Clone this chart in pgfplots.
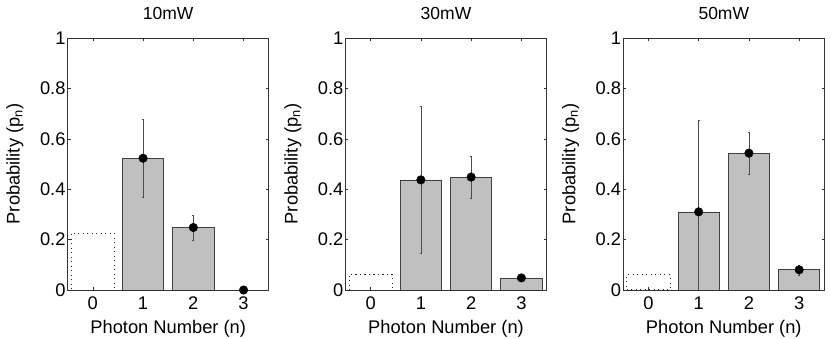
\documentclass[border=0pt]{standalone}
\usepackage{pgfplots}
\pgfplotsset{compat=1.18}
\usepackage{pgfplotstable}
\usepackage{fontspec}
\setmainfont{Liberation Sans}

\definecolor{barfill}{RGB}{192,192,192}

% photon number distributions: n, probability, error
\pgfplotstableread{
n p e
1 0.523 0.156
2 0.248 0.050
3 0.000 0.000
}\tenmw
\pgfplotstableread{
n p e
1 0.437 0.290
2 0.448 0.084
3 0.048 0.005
}\thirtymw
\pgfplotstableread{
n p e
1 0.310 0.365
2 0.543 0.083
3 0.080 0.020
}\fiftymw

\newcommand{\bigfont}{\fontsize{18.3bp}{20bp}\selectfont}
\newcommand{\titlefont}{\fontsize{17.5bp}{19bp}\selectfont}

\pgfplotsset{
  panel/.style={
    anchor=south west,
    width=201bp, height=252bp, scale only axis,
    xmin=-0.5, xmax=3.5, ymin=0, ymax=1,
    xtick={0,1,2,3}, ytick={0,0.2,0.4,0.6,0.8,1},
    tick align=inside, xtick pos=both, ytick pos=both,
    major tick length=2.8bp,
    every tick/.style={black!80, line width=0.5bp},
    axis line style={black!80, line width=0.6bp},
    /pgf/number format/assume math mode=true,
    ticklabel style={font=\bigfont},
    yticklabel style={inner sep=2bp},
    xticklabel style={inner sep=2bp, yshift=-5bp},
    xlabel={Photon Number (n)},
    ylabel={Probability (p\textsubscript{n})},
    label style={font=\bigfont},
    xlabel style={at={(axis description cs:0.5,0)}, anchor=base, yshift=-43bp},
    ylabel style={at={(axis description cs:0,0.5)}, anchor=center, yshift=52.7bp},
    title style={font=\titlefont, at={(axis description cs:0.5,1)}, anchor=base, yshift=13bp},
  },
  ghost/.style={ybar, bar width=0.86, fill=none, draw=black!85, line width=1bp,
    dash pattern=on 1.1bp off 3.4bp},
  bars/.style={ybar, bar width=0.82, fill=barfill, draw=black!75, line width=0.7bp},
  dots/.style={only marks, mark=*, mark size=4.3bp, black,
    error bars/.cd, y dir=both, y explicit,
    error bar style={black!70, line width=0.6bp},
    error mark options={rotate=90, mark size=1bp, black!70, line width=0.6bp}},
}

\begin{document}
\begin{tikzpicture}
\useasboundingbox (0,0) rectangle (830bp,339bp);

\begin{axis}[panel, at={(67.7bp,49bp)}, title={10mW}]
\addplot[ghost] coordinates {(0,0.225)};
\addplot[bars] table[x=n, y=p] {\tenmw};
\addplot[dots] table[x=n, y=p, y error=e] {\tenmw};
\end{axis}

\begin{axis}[panel, at={(345.5bp,49bp)}, title={30mW}]
\addplot[ghost] coordinates {(0,0.062)};
\addplot[bars] table[x=n, y=p] {\thirtymw};
\addplot[dots] table[x=n, y=p, y error=e] {\thirtymw};
\end{axis}

\begin{axis}[panel, at={(623.3bp,49bp)}, title={50mW}]
\addplot[ghost] coordinates {(0,0.060)};
\addplot[bars] table[x=n, y=p] {\fiftymw};
\addplot[dots] table[x=n, y=p, y error=e] {\fiftymw};
\end{axis}
\end{tikzpicture}
\end{document}
